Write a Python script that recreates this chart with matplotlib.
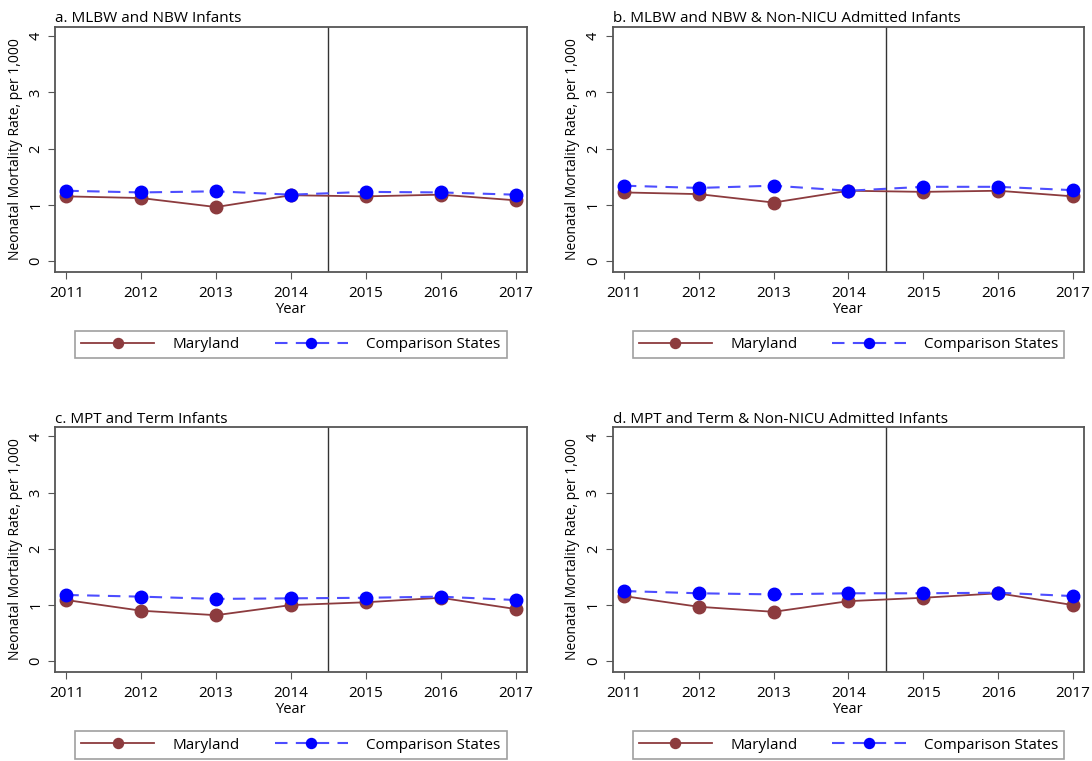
import matplotlib
matplotlib.use("Agg")
import matplotlib.pyplot as plt

plt.rcParams["font.family"] = ["Open Sans", "DejaVu Sans"]

years = [2011, 2012, 2013, 2014, 2015, 2016, 2017]
titles = [
    "a. MLBW and NBW Infants",
    "b. MLBW and NBW & Non-NICU Admitted Infants",
    "c. MPT and Term Infants",
    "d. MPT and Term & Non-NICU Admitted Infants",
]

# Maryland
md_a = [1.15, 1.12, 0.96, 1.17, 1.15, 1.18, 1.08]
md_b = [1.22, 1.19, 1.04, 1.25, 1.23, 1.25, 1.15]
md_c = [1.09, 0.90, 0.82, 1.00, 1.05, 1.13, 0.93]
md_d = [1.16, 0.97, 0.88, 1.07, 1.13, 1.21, 1.00]

# Comparison states
cs_a = [1.25, 1.22, 1.24, 1.18, 1.23, 1.22, 1.18]
cs_b = [1.34, 1.30, 1.34, 1.25, 1.32, 1.32, 1.26]
cs_c = [1.18, 1.15, 1.11, 1.12, 1.13, 1.15, 1.09]
cs_d = [1.25, 1.21, 1.19, 1.21, 1.21, 1.22, 1.16]

maryland = [md_a, md_b, md_c, md_d]
comparison = [cs_a, cs_b, cs_c, cs_d]

fig = plt.figure(figsize=(10.92, 7.61), dpi=100)

# axes positions in figure fractions
lefts = [0.0504, 0.561, 0.0504, 0.561]
bottoms = [0.643, 0.643, 0.117, 0.117]
w, h = 0.432, 0.322

red = "#8c3b3e"
blue = "#0000ff"
gray = "#555555"

for i in range(4):
    ax = fig.add_axes([lefts[i], bottoms[i], w, h])
    ax.plot(years, maryland[i], color=red, lw=1.3, marker="o", ms=9,
            markeredgecolor=red, label="Maryland", zorder=3)
    ax.plot(years, comparison[i], color=(0.3, 0.3, 1.0), lw=1.5, ls=(0, (6, 4)),
            marker="o", ms=9, markerfacecolor=blue, markeredgecolor=blue,
            label="Comparison States", zorder=4)
    ax.axvline(2014.5, color="#333333", lw=1)
    ax.set_xlim(2010.85, 2017.15)
    ax.set_ylim(-0.19, 4.17)
    ax.set_xticks(years)
    ax.set_yticks([0, 1, 2, 3, 4])
    ax.tick_params(axis="y", labelrotation=90, length=5, color=gray, labelsize=10.5)
    ax.tick_params(axis="x", length=5, color=gray, labelsize=11, pad=5)
    for lab in ax.get_yticklabels():
        lab.set_va("center")
    for s in ax.spines.values():
        s.set_color(gray)
        s.set_linewidth(1.3)
    ax.set_xlabel("Year", fontsize=10.5, labelpad=1)
    ax.set_ylabel("Neonatal Mortality Rate, per 1,000", fontsize=10, labelpad=4)
    ax.set_title(titles[i], fontsize=11, loc="left", pad=3)
    leg = ax.legend(loc="center", ncol=2, mode="expand",
                    bbox_to_anchor=(0.0424, -0.364, 0.915, 0.131),
                    frameon=True, fancybox=False, edgecolor="#888888",
                    handlelength=4.8, handletextpad=1.2, markerscale=0.8,
                    fontsize=11, borderaxespad=0)
    leg.get_frame().set_linewidth(1.2)

fig.savefig("out.png", dpi=100)
